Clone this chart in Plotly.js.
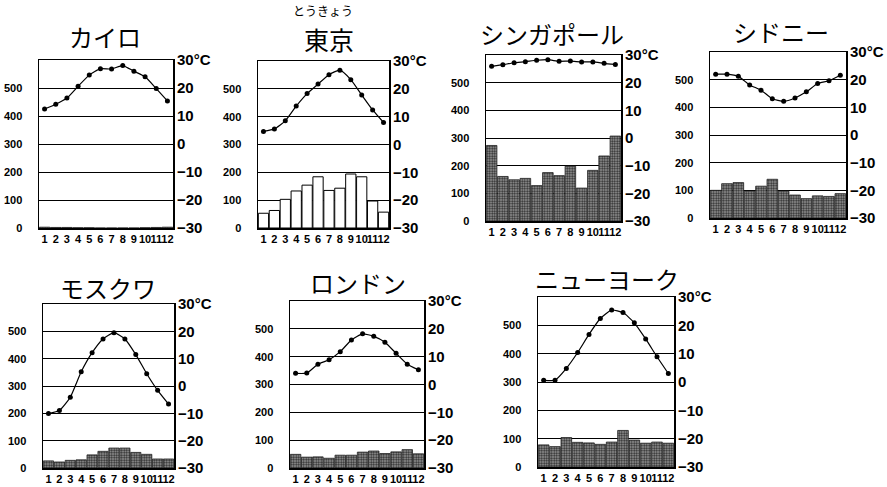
<!DOCTYPE html>
<html><head><meta charset="utf-8">
<script src="https://cdn.plot.ly/plotly-3.0.1.min.js"></script>
<style>html,body{margin:0;padding:0;background:#fff}#chart{width:887px;height:487px}</style>
</head><body><div id="chart"></div>
<script>
// ---- data ----
const months = [1,2,3,4,5,6,7,8,9,10,11,12];
const monthLabels = ['1','2','3','4','5','6','7','8','9','10','11','12'];
const cities = ['カイロ','東京','シンガポール','シドニー','モスクワ','ロンドン','ニューヨーク'];
const tokyoReading = 'とうきょう';

const cairoTemp = [12.5,14.2,16.4,20.6,24.6,26.9,26.8,28.0,26.0,24.0,19.8,15.4];
const cairoPrecip = [3,2,2,1,1,0,0,0,0,1,2,3];
const tokyoTemp = [4.7,5.6,8.5,13.8,18.3,21.7,25.1,26.7,23.3,17.8,12.4,7.9];
const tokyoPrecip = [53,63,103,133,154,184,135,143,194,184,97,57];
const singaporeTemp = [25.9,26.5,27.2,27.6,28.1,28.3,27.7,27.8,27.5,27.5,27.0,26.6];
const singaporePrecip = [273,161,149,154,128,175,164,198,119,183,235,307];
const sydneyTemp = [22.0,22.0,21.2,18.1,16.2,13.1,12.2,13.4,15.6,18.6,19.6,21.6];
const sydneyPrecip = [100,124,128,97,115,140,97,83,70,80,78,88];
const moscowTemp = [-10.1,-9.0,-4.1,5.2,12.2,17.2,19.5,17.2,11.5,4.5,-1.6,-6.6];
const moscowPrecip = [26,22,28,30,48,61,73,73,57,50,33,33];
const londonTemp = [4.0,4.1,7.3,8.9,11.8,16.0,18.2,17.3,15.2,11.2,7.3,5.3];
const londonPrecip = [49,39,40,35,46,46,57,61,52,58,66,51];
const newyorkTemp = [0.6,0.6,4.8,10.4,16.8,22.4,25.4,24.5,20.9,15.2,8.9,3.0];
const newyorkPrecip = [78,72,104,87,85,80,88,129,95,84,88,84];

const precipTicks = [0,100,200,300,400,500];
const tempTicks = [-30,-20,-10,0,10,20,30];
const tempTickLabels = ['−30','−20','−10','0','10','20','30°C'];

const temps = [cairoTemp,tokyoTemp,singaporeTemp,sydneyTemp,moscowTemp,londonTemp,newyorkTemp];
const precips = [cairoPrecip,tokyoPrecip,singaporePrecip,sydneyPrecip,moscowPrecip,londonPrecip,newyorkPrecip];

// ---- layout geometry (pixels): x0, x1, top, bottom, title x, title y ----
const W = 887, H = 487;
const boxes = [
  [39,173,60,228,105,37],
  [258,389,61,228,329,39],
  [486,621,55,221,552,33],
  [710,846,52,218,781,32],
  [43,174,304,468,108,287],
  [290,424,301,468,358,282],
  [538,674,297,467,607,278]
];

const data = [];
const layout = {
  width: W, height: H,
  margin: {l:0,r:0,t:0,b:0},
  paper_bgcolor: '#fff', plot_bgcolor: '#fff',
  showlegend: false,
  bargap: 0.06,
  annotations: []
};
const tickFamily = 'Liberation Sans, Arial, sans-serif';

boxes.forEach((b,i) => {
  const xid = i===0 ? 'x' : 'x'+(i+1);
  const yl = 2*i+1, yr = 2*i+2;
  const ylid = yl===1 ? 'y' : 'y'+yl;
  const yrid = 'y'+yr;
  const white = (i===1);
  data.push({
    type:'bar', x: months, y: precips[i], xaxis: xid, yaxis: ylid,
    marker: white ? {color:'#fff', line:{color:'#000', width:1}} :
      {color:'#8c8c8c', line:{color:'#222', width:0.8},
       pattern:{shape:'.', fgcolor:'#2a2a2a', bgcolor:'#a0a0a0', size:2.5, solidity:0.5}},
    hoverinfo:'skip'
  });
  data.push({
    type:'scatter', mode:'lines+markers', x: months, y: temps[i], xaxis: xid, yaxis: yrid,
    line:{color:'#000', width:1.2, shape:'spline', smoothing:0.5},
    marker:{color:'#000', size:5}, hoverinfo:'skip'
  });
  const xd = [b[0]/W, b[1]/W];
  const yd = [1-b[3]/H, 1-b[2]/H];
  layout[i===0?'xaxis':'xaxis'+(i+1)] = {
    domain: xd, anchor: ylid, range:[0.5,12.5],
    tickmode:'array', tickvals: months, ticktext: monthLabels, tickangle: 0,
    showgrid:false, zeroline:false, showline:true, mirror:true, linecolor:'#000', linewidth:1.5,
    ticks:'', ticklabelstandoff: 0,
    tickfont:{family:tickFamily, size:11, color:'#000', weight:'bold'}
  };
  layout[yl===1?'yaxis':'yaxis'+yl] = {
    domain: yd, anchor: xid, range:[0,600],
    tickmode:'array', tickvals: precipTicks,
    showgrid:true, gridcolor:'#000', gridwidth:1, zeroline:false,
    showline:true, mirror:true, linecolor:'#000', linewidth:1.5,
    ticks:'', ticklabelstandoff: 13,
    tickfont:{family:tickFamily, size:11, color:'#000', weight:'bold'}
  };
  layout['yaxis'+yr] = {
    overlaying: ylid, side:'right', anchor: xid, range:[-30,30],
    tickmode:'array', tickvals: tempTicks, ticktext: tempTickLabels,
    showgrid:false, zeroline:false, showline:false,
    ticks:'', ticklabelstandoff: 3,
    tickfont:{family:tickFamily, size:15, color:'#000', weight:'bold'}
  };
  layout.annotations.push({
    xref:'paper', yref:'paper', x: b[4]/W, y: 1-b[5]/H, xanchor:'center', yanchor:'middle',
    text: cities[i], showarrow:false, borderpad:0,
    font:{family:'Noto Sans CJK JP', size: i===1?25:24, color:'#000'}
  });
});
layout.annotations.push({
  xref:'paper', yref:'paper', x: 323/W, y: 1-11/H, xanchor:'center', yanchor:'middle',
  text: tokyoReading, showarrow:false, borderpad:0,
  font:{family:'Noto Sans CJK JP', size:12, color:'#000'}
});

Plotly.newPlot('chart', data, layout, {staticPlot:true, displayModeBar:false});
</script>
</body></html>
